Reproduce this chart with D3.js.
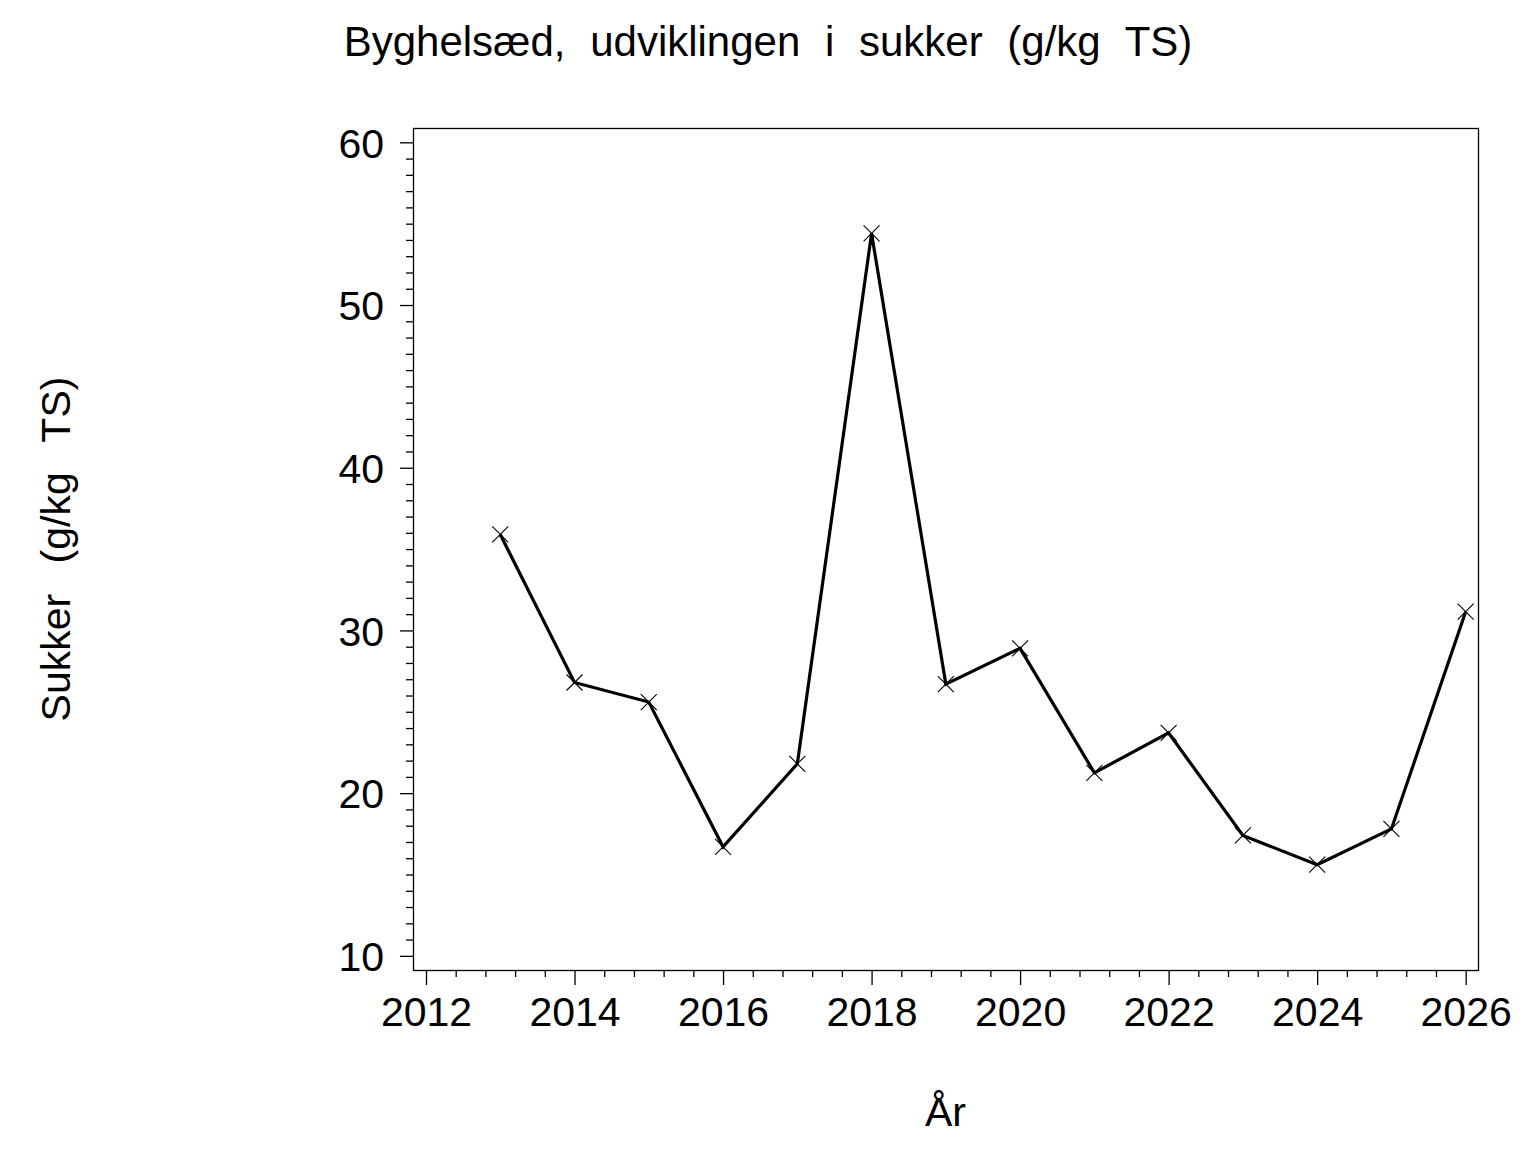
<!DOCTYPE html>
<html>
<head>
<meta charset="utf-8">
<script src="https://cdn.jsdelivr.net/npm/d3@7"></script>
<style>
  html, body { margin: 0; padding: 0; background: #fff; }
  svg { display: block; }
  text { font-family: "Liberation Sans", Arial, sans-serif; fill: #000; }
</style>
</head>
<body>
<script>
// ---- data ----
const years = [2013, 2014, 2015, 2016, 2017, 2018, 2019, 2020, 2021, 2022, 2023, 2024, 2025, 2026];
const sugar = [35.9, 26.8, 25.6, 16.7, 21.8, 54.4, 26.7, 28.9, 21.25, 23.7, 17.4, 15.6, 17.8, 31.15];
const xTickLabels = [2012, 2014, 2016, 2018, 2020, 2022, 2024, 2026];
const yTickLabels = [10, 20, 30, 40, 50, 60];
const titleText = "Byghelsæd, udviklingen i sukker (g/kg TS)";
const xLabelText = "År";
const yLabelText = "Sukker (g/kg TS)";

const W = 1536, H = 1152;
const plot = { left: 413, right: 1478, top: 128, bottom: 970 };

const svg = d3.select("body").append("svg").attr("width", W).attr("height", H);

const x = d3.scaleLinear().domain([2011.825, 2026.166]).range([plot.left, plot.right]);
const y = d3.scaleLinear().domain([9.13, 60.88]).range([plot.bottom, plot.top]);

// frame
svg.append("rect")
  .attr("x", plot.left + 0.5).attr("y", plot.top + 0.5)
  .attr("width", plot.right - plot.left).attr("height", plot.bottom - plot.top)
  .attr("fill", "none").attr("stroke", "#000").attr("stroke-width", 1.3);

// y axis
const yMinor = d3.range(10, 60.01, 1).filter(v => !yTickLabels.includes(v));
const yAxisMinor = d3.axisLeft(y).tickValues(yMinor).tickSize(7).tickFormat("");
const yAxisMajor = d3.axisLeft(y).tickValues(yTickLabels).tickSize(13).tickPadding(16).tickFormat(d3.format("d"));
[yAxisMinor, yAxisMajor].forEach(ax => {
  const g = svg.append("g").attr("transform", `translate(${plot.left},0)`).call(ax);
  g.select(".domain").remove();
  g.selectAll("line").attr("stroke", "#000").attr("stroke-width", 1.3);
  g.selectAll("text").attr("font-size", 41).attr("font-family", "Liberation Sans, Arial, sans-serif")
    .attr("fill", "#000").attr("dy", "0.36em");
});

// x axis
const xMinor = d3.range(0, 35.01, 1).map(i => 2012 + i * 0.4).filter(v => Math.abs(v - Math.round(v)) > 1e-6 || Math.round(v) % 2 !== 0);
const xAxisMinor = d3.axisBottom(x).tickValues(xMinor).tickSize(7).tickFormat("");
const xAxisMajor = d3.axisBottom(x).tickValues(xTickLabels).tickSize(15).tickPadding(12).tickFormat(d3.format("d"));
[xAxisMinor, xAxisMajor].forEach(ax => {
  const g = svg.append("g").attr("transform", `translate(0,${plot.bottom})`).call(ax);
  g.select(".domain").remove();
  g.selectAll("line").attr("stroke", "#000").attr("stroke-width", 1.3);
  g.selectAll("text").attr("font-size", 41).attr("font-family", "Liberation Sans, Arial, sans-serif")
    .attr("fill", "#000");
});

// line
const pts = years.map((yr, i) => [yr, sugar[i]]);
svg.append("path")
  .datum(pts)
  .attr("fill", "none").attr("stroke", "#000").attr("stroke-width", 3.2)
  .attr("stroke-linejoin", "miter")
  .attr("d", d3.line().x(d => x(d[0])).y(d => y(d[1])));

// markers (X)
const s = 8;
svg.append("g").selectAll("path.mk").data(pts).join("path")
  .attr("class", "mk")
  .attr("d", d => {
    const cx = x(d[0]), cy = y(d[1]);
    return `M${cx - s},${cy - s}L${cx + s},${cy + s}M${cx - s},${cy + s}L${cx + s},${cy - s}`;
  })
  .attr("stroke", "#000").attr("stroke-width", 1.1).attr("fill", "none");

// title
svg.append("text")
  .attr("x", W / 2).attr("y", 56)
  .attr("text-anchor", "middle").attr("font-size", 42)
  .style("word-spacing", "13px")
  .text(titleText);

// x label
svg.append("text")
  .attr("x", (plot.left + plot.right) / 2).attr("y", 1126)
  .attr("text-anchor", "middle").attr("font-size", 41)
  .text(xLabelText);

// y label
svg.append("text")
  .attr("transform", `translate(70,${(plot.top + plot.bottom) / 2}) rotate(-90)`)
  .attr("text-anchor", "middle").attr("font-size", 41)
  .style("word-spacing", "19px")
  .text(yLabelText);
</script>
</body>
</html>
